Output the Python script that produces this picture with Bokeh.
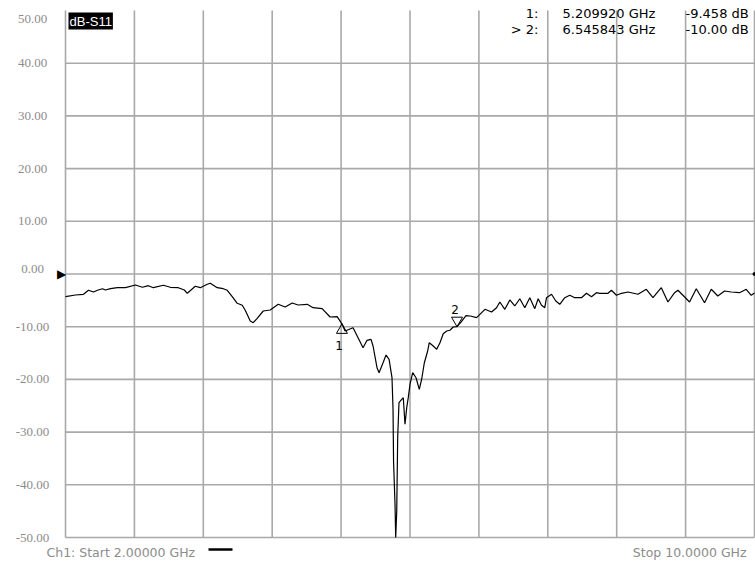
import math
from bokeh.plotting import figure
from bokeh.models import Label, LabelSet, ColumnDataSource, Range1d
from bokeh.embed import file_html
from bokeh.resources import INLINE

# ---------------- data ----------------
freq_ghz = [
    2.000, 2.116, 2.209, 2.267, 2.325, 2.371, 2.429, 2.464, 2.522, 2.603,
    2.696, 2.812, 2.893, 2.962, 3.020, 3.136, 3.217, 3.310, 3.380, 3.414,
    3.507, 3.565, 3.646, 3.681, 3.762, 3.832, 3.878, 3.936, 3.994, 4.052,
    4.087, 4.145, 4.180, 4.226, 4.296, 4.377, 4.470, 4.551, 4.632, 4.701,
    4.806, 4.875, 4.980, 5.072, 5.154, 5.210, 5.246, 5.339, 5.397, 5.455,
    5.501, 5.548, 5.571, 5.617, 5.641, 5.687, 5.722, 5.757, 5.791, 5.803,
    5.809, 5.826, 5.834, 5.846, 5.857, 5.872, 5.904, 5.922, 5.942, 5.962,
    5.980, 6.000, 6.031, 6.070, 6.108, 6.136, 6.166, 6.205, 6.224, 6.270,
    6.310, 6.348, 6.386, 6.426, 6.464, 6.502, 6.546, 6.595, 6.650, 6.700,
    6.773, 6.870, 6.947, 7.005, 7.043, 7.101, 7.159, 7.217, 7.275, 7.333,
    7.391, 7.449, 7.488, 7.527, 7.565, 7.585, 7.643, 7.693, 7.739, 7.797,
    7.855, 7.913, 7.991, 8.049, 8.107, 8.165, 8.203, 8.299, 8.339, 8.397,
    8.455, 8.531, 8.647, 8.744, 8.821, 8.918, 8.995, 9.072, 9.111, 9.169,
    9.246, 9.324, 9.420, 9.498, 9.574, 9.652, 9.730, 9.826, 9.904, 9.962,
    10.000,
]
s11_db = [
    -4.31, -3.98, -3.85, -3.09, -3.42, -3.09, -2.79, -3.04, -2.79, -2.60,
    -2.60, -2.09, -2.52, -2.22, -2.60, -2.14, -2.52, -2.60, -3.04, -3.66,
    -2.33, -2.60, -1.95, -1.76, -2.60, -2.79, -3.09, -4.31, -5.56, -5.94,
    -6.89, -8.92, -9.24, -8.41, -7.02, -6.83, -5.75, -6.26, -5.50, -5.88,
    -5.75, -6.39, -6.58, -8.16, -8.10, -9.46, -10.82, -10.19, -12.09, -13.98,
    -12.58, -12.39, -13.66, -17.78, -18.73, -16.83, -15.37, -16.19, -19.68, -25.67,
    -35.48, -43.70, -50.00, -44.97, -31.06, -24.42, -23.78, -23.47, -28.52, -25.37,
    -23.47, -20.93, -18.73, -19.68, -21.88, -19.92, -16.89, -14.61, -13.04, -13.66,
    -14.29, -13.04, -11.33, -10.82, -10.68, -10.06, -10.00, -9.10, -7.90, -7.97,
    -8.29, -6.70, -7.21, -6.39, -5.31, -6.70, -4.93, -6.07, -4.69, -6.39,
    -4.50, -6.58, -4.69, -5.94, -6.39, -4.50, -3.85, -5.12, -5.75, -4.50,
    -4.04, -4.50, -4.50, -3.66, -4.31, -3.55, -3.66, -3.66, -3.09, -4.04,
    -3.66, -3.42, -3.85, -2.90, -4.50, -2.60, -5.31, -3.55, -3.09, -4.04,
    -5.31, -2.79, -5.45, -2.90, -4.17, -3.23, -3.42, -3.55, -2.90, -4.04,
    -3.61,
]
marker_ids = ["1", "2"]
marker_prefix = ["1:", "> 2:"]
marker_freq_ghz = [5.209920, 6.545843]
marker_db = [-9.458, -10.00]
y_ticks = [50, 40, 30, 20, 10, 0, -10, -20, -30, -40, -50]
x_grid_ghz = [2.0, 2.8, 3.6, 4.4, 5.2, 6.0, 6.8, 7.6, 8.4, 9.2, 10.0]
start_ghz = 2.0
stop_ghz = 10.0
trace_name = "dB-S11"
channel = "Ch1"
ref_level_db = 0.0

# ---------------- layout (canvas pixels) ----------------
W, H = 755, 565
PL, PR, PT, PB = 65, 754, 10, 537          # graticule box on the canvas
y_top, y_bot = y_ticks[0], y_ticks[-1]
gpp = (stop_ghz - start_ghz) / (PR - PL)     # GHz per pixel
dpp = (y_top - y_bot) / (PB - PT)            # dB per pixel
px_per_db = 1.0 / dpp

FONT = "DejaVu Sans"
GRAY_TXT = "#8c8c8c"
GRID = "#a9a9a9"

p = figure(width=W, height=H,
           x_range=Range1d(start_ghz - PL * gpp, stop_ghz + (W - PR) * gpp),
           y_range=Range1d(y_bot - (H - PB) * dpp, y_top + PT * dpp),
           output_backend="svg", toolbar_location=None,
           x_axis_location=None, y_axis_location=None,
           min_border_left=0, min_border_right=0,
           min_border_top=0, min_border_bottom=0)
p.outline_line_color = None
p.background_fill_color = "white"
p.border_fill_color = "white"
p.xgrid.visible = False
p.ygrid.visible = False

# graticule
p.segment(x0=x_grid_ghz, y0=[y_bot] * len(x_grid_ghz),
          x1=x_grid_ghz, y1=[y_top] * len(x_grid_ghz),
          line_color=GRID, line_width=1.6)
hy = [t for t in y_ticks if t < y_top]
p.segment(x0=[start_ghz] * len(hy), y0=hy, x1=[stop_ghz] * len(hy), y1=hy,
          line_color=GRID, line_width=1.6)

# trace
p.line(freq_ghz, s11_db, line_color="black", line_width=1.2)

# markers (apex of the triangle on the trace)
tri_size = 11
apex_px = (tri_size / 2) * math.sqrt(3) * 2 / 3
apex_db = apex_px / px_per_db
p.scatter(x=[marker_freq_ghz[0]], y=[marker_db[0] - apex_db], marker="triangle",
          size=tri_size, fill_alpha=0, line_color="black", line_width=1)
p.scatter(x=[marker_freq_ghz[1]], y=[marker_db[1] + apex_db], marker="inverted_triangle",
          size=tri_size, fill_alpha=0, line_color="black", line_width=1)
p.add_layout(Label(x=marker_freq_ghz[0], y=marker_db[0], text=marker_ids[0],
                   x_offset=-3, y_offset=-22, text_align="center", text_baseline="middle",
                   text_font=FONT, text_font_size="12px", text_color="black"))
p.add_layout(Label(x=marker_freq_ghz[1], y=marker_db[1], text=marker_ids[1],
                   x_offset=-2, y_offset=17, text_align="center", text_baseline="middle",
                   text_font=FONT, text_font_size="12px", text_color="black"))

# reference level indicators
p.add_layout(Label(x=start_ghz, y=ref_level_db, x_offset=-4, text="\u25B6",
                   text_align="center", text_baseline="middle",
                   text_font=FONT, text_font_size="12px", text_color="black"))
p.scatter(x=[stop_ghz], y=[ref_level_db], marker="circle", size=3,
          fill_color="black", line_color="black")

# y tick labels (centered, like the instrument display)
nudge = {y_top: -8, 0: 5}
src = ColumnDataSource(dict(
    y=y_ticks,
    text=[f"{t:.2f}" for t in y_ticks],
    yo=[nudge.get(t, 0) for t in y_ticks],
))
p.add_layout(LabelSet(x=32, x_units="screen", y="y", text="text", y_offset="yo",
                      source=src, text_align="center", text_baseline="middle",
                      text_font=FONT, text_font_size="13px", text_color=GRAY_TXT))

# trace title
p.add_layout(Label(x=PL + 3, y=H - PT - 2, x_units="screen", y_units="screen",
                   text=trace_name, text_align="left", text_baseline="top",
                   text_font="Liberation Sans", text_font_size="13px",
                   text_color="white", background_fill_color="black", padding=1))

# marker readout (top right)
rows_y = [H - 13, H - 29]
for i in range(len(marker_ids)):
    p.add_layout(Label(x=538, y=rows_y[i], x_units="screen", y_units="screen",
                       text=marker_prefix[i], text_align="right", text_baseline="middle",
                       text_font=FONT, text_font_size="13px", text_color="black"))
    p.add_layout(Label(x=562, y=rows_y[i], x_units="screen", y_units="screen",
                       text=f"{marker_freq_ghz[i]:.6f} GHz", text_align="left",
                       text_baseline="middle",
                       text_font=FONT, text_font_size="13px", text_color="black"))
    p.add_layout(Label(x=685, y=rows_y[i], x_units="screen", y_units="screen",
                       text=f"{marker_db[i]:#.4g} dB", text_align="left",
                       text_baseline="middle",
                       text_font=FONT, text_font_size="13px", text_color="black"))

# bottom annotations
p.add_layout(Label(x=46, y=H - 552, x_units="screen", y_units="screen",
                   text=f"{channel}: Start  {start_ghz:.5f} GHz", text_align="left",
                   text_baseline="middle", text_font=FONT, text_font_size="12.5px",
                   text_color=GRAY_TXT))
p.add_layout(Label(x=750, y=H - 552, x_units="screen", y_units="screen",
                   text=f"Stop  {stop_ghz:.4f} GHz", text_align="right",
                   text_baseline="middle", text_font=FONT, text_font_size="12.5px",
                   text_color=GRAY_TXT))
p.add_layout(Label(x=208, y=H - 549, x_units="screen", y_units="screen",
                   text="\u2003" * 12, text_align="left", text_baseline="middle",
                   text_font=FONT, text_font_size="2px", text_color="black",
                   background_fill_color="black", padding=0))

open("out.html", "w").write(file_html(p, INLINE))
